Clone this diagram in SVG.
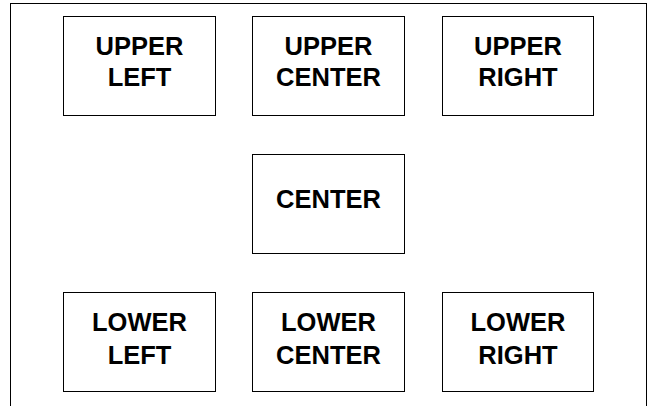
<svg xmlns="http://www.w3.org/2000/svg" width="652" height="406" viewBox="0 0 652 406">
<style>
.frame{fill:none;stroke:#000;stroke-width:1}
.box{fill:#fff;stroke:#000;stroke-width:1}
.lbl{font-family:"Liberation Sans",Arial,sans-serif;font-weight:bold;font-size:25.5px;fill:#000;text-anchor:middle}
</style>
<rect width="652" height="406" fill="#fff"/>
<rect class="frame" x="10.5" y="3.5" width="636" height="410"/>
<g id="connectors"/>
<g id="upper-left">
<rect class="box" x="63.5" y="16.5" width="152" height="99"/>
<text class="lbl" x="139.5" y="55">UPPER</text>
<text class="lbl" x="139.5" y="86">LEFT</text>
</g>
<g id="upper-center">
<rect class="box" x="252.5" y="16.5" width="152" height="99"/>
<text class="lbl" x="328.5" y="55">UPPER</text>
<text class="lbl" x="328.5" y="86">CENTER</text>
</g>
<g id="upper-right">
<rect class="box" x="442.5" y="16.5" width="151" height="99"/>
<text class="lbl" x="518" y="55">UPPER</text>
<text class="lbl" x="518" y="86">RIGHT</text>
</g>
<g id="center">
<rect class="box" x="252.5" y="154.5" width="152" height="99"/>
<text class="lbl" x="328.5" y="207.5">CENTER</text>
</g>
<g id="lower-left">
<rect class="box" x="63.5" y="292.5" width="152" height="99"/>
<text class="lbl" x="139.5" y="331">LOWER</text>
<text class="lbl" x="139.5" y="363.5">LEFT</text>
</g>
<g id="lower-center">
<rect class="box" x="252.5" y="292.5" width="152" height="99"/>
<text class="lbl" x="328.5" y="331">LOWER</text>
<text class="lbl" x="328.5" y="363.5">CENTER</text>
</g>
<g id="lower-right">
<rect class="box" x="442.5" y="292.5" width="151" height="99"/>
<text class="lbl" x="518" y="331">LOWER</text>
<text class="lbl" x="518" y="363.5">RIGHT</text>
</g>
</svg>
